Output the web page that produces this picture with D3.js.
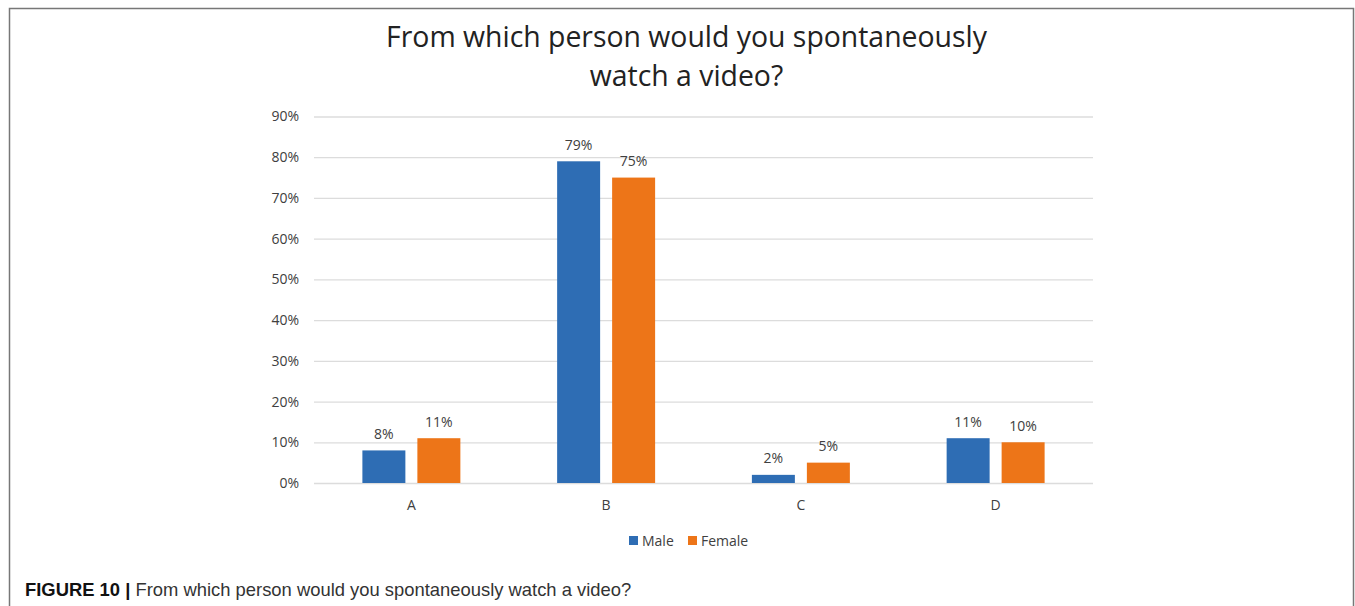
<!DOCTYPE html>
<html>
<head>
<meta charset="utf-8">
<script src="https://cdn.jsdelivr.net/npm/d3@7"></script>
<style>
  html, body { margin: 0; padding: 0; background: #fff; }
  svg { display: block; }
</style>
</head>
<body>
<svg id="chart" width="1355" height="606"></svg>
<script>
// Survey answers by gender (share of respondents)
const categories = ["A", "B", "C", "D"];
const seriesNames = ["Male", "Female"];
const maleValues = [0.08, 0.79, 0.02, 0.11];
const femaleValues = [0.11, 0.75, 0.05, 0.10];
const yTickValues = [0, 0.1, 0.2, 0.3, 0.4, 0.5, 0.6, 0.7, 0.8, 0.9];
const titleLines = ["From which person would you spontaneously", "watch a video?"];
const captionBold = "FIGURE 10 |";
const captionText = " From which person would you spontaneously watch a video?";

const colors = { Male: "#2E6DB4", Female: "#ED7518" };
const seriesValues = { Male: maleValues, Female: femaleValues };

const svg = d3.select("#chart");
const plot = { left: 314, right: 1093, top: 116.5, bottom: 483 };
const fontMain = "'Open Sans', 'DejaVu Sans', sans-serif";

// Frame around the chart (open at the bottom)
svg.append("path")
  .attr("d", "M9.5,606 V8.5 H1353.5 V606")
  .attr("fill", "none")
  .attr("stroke", "#777")
  .attr("stroke-width", 1.5);

// Title
svg.append("g").selectAll("text")
  .data(titleLines)
  .join("text")
  .attr("x", 686.5)
  .attr("y", (d, i) => 47 + i * 38.5)
  .attr("text-anchor", "middle")
  .attr("font-family", fontMain)
  .attr("font-size", 28.4)
  .attr("fill", "#222")
  .text(d => d);

// Scales
const y = d3.scaleLinear().domain([0, 0.9]).range([plot.bottom, plot.top]);
const x0 = d3.scaleBand().domain(categories).range([plot.left, plot.right]).padding(0);
const x1 = d3.scaleBand().domain(seriesNames).range([0, x0.bandwidth()])
  .paddingInner(12 / 55).paddingOuter(0.88);

// Gridlines and y tick labels
const yAxis = d3.axisLeft(y)
  .tickValues(yTickValues)
  .tickFormat(d3.format(".0%"))
  .tickSize(-(plot.right - plot.left))
  .tickPadding(15);

const gy = svg.append("g")
  .attr("transform", `translate(${plot.left},0)`)
  .call(yAxis);
gy.select(".domain").remove();
gy.selectAll(".tick line").attr("stroke", "#dcdcdc").attr("stroke-width", 1.3);
gy.selectAll(".tick text")
  .attr("font-family", fontMain)
  .attr("font-size", 14)
  .attr("fill", "#404040");

// Category axis labels
const xAxis = d3.axisBottom(x0).tickSize(0).tickPadding(17);
const gx = svg.append("g")
  .attr("transform", `translate(0,${plot.bottom})`)
  .call(xAxis);
gx.select(".domain").remove();
gx.selectAll(".tick text")
  .attr("font-family", fontMain)
  .attr("font-size", 14)
  .attr("fill", "#404040");

// Bars
const rows = categories.map((c, i) => ({
  cat: c,
  vals: seriesNames.map(s => ({ series: s, value: seriesValues[s][i] }))
}));

const groups = svg.append("g").selectAll("g")
  .data(rows)
  .join("g")
  .attr("transform", d => `translate(${x0(d.cat)},0)`);

groups.selectAll("rect")
  .data(d => d.vals)
  .join("rect")
  .attr("x", d => x1(d.series))
  .attr("y", d => y(d.value))
  .attr("width", x1.bandwidth())
  .attr("height", d => y(0) - y(d.value))
  .attr("fill", d => colors[d.series]);

// Value labels
groups.selectAll("text")
  .data(d => d.vals)
  .join("text")
  .attr("x", d => x1(d.series) + x1.bandwidth() / 2)
  .attr("y", d => y(d.value) - 11.5)
  .attr("text-anchor", "middle")
  .attr("font-family", fontMain)
  .attr("font-size", 14)
  .attr("fill", "#404040")
  .text(d => d3.format(".0%")(d.value));

// Legend
const legendItems = [
  { name: "Male", x: 629 },
  { name: "Female", x: 688 }
];
const legend = svg.append("g").selectAll("g")
  .data(legendItems)
  .join("g")
  .attr("transform", d => `translate(${d.x},536)`);
legend.append("rect")
  .attr("width", 9).attr("height", 9)
  .attr("fill", d => colors[d.name]);
legend.append("text")
  .attr("x", 13).attr("y", 10)
  .attr("font-family", fontMain)
  .attr("font-size", 14)
  .attr("fill", "#404040")
  .text(d => d.name);

// Figure caption
const cap = svg.append("text")
  .attr("x", 25)
  .attr("y", 596)
  .attr("font-family", "'Liberation Sans', Arial, sans-serif")
  .attr("font-size", 18.4)
  .attr("fill", "#111");
cap.append("tspan").attr("font-weight", "bold").text(captionBold);
cap.append("tspan").attr("fill", "#333").text(captionText);
</script>
</body>
</html>
